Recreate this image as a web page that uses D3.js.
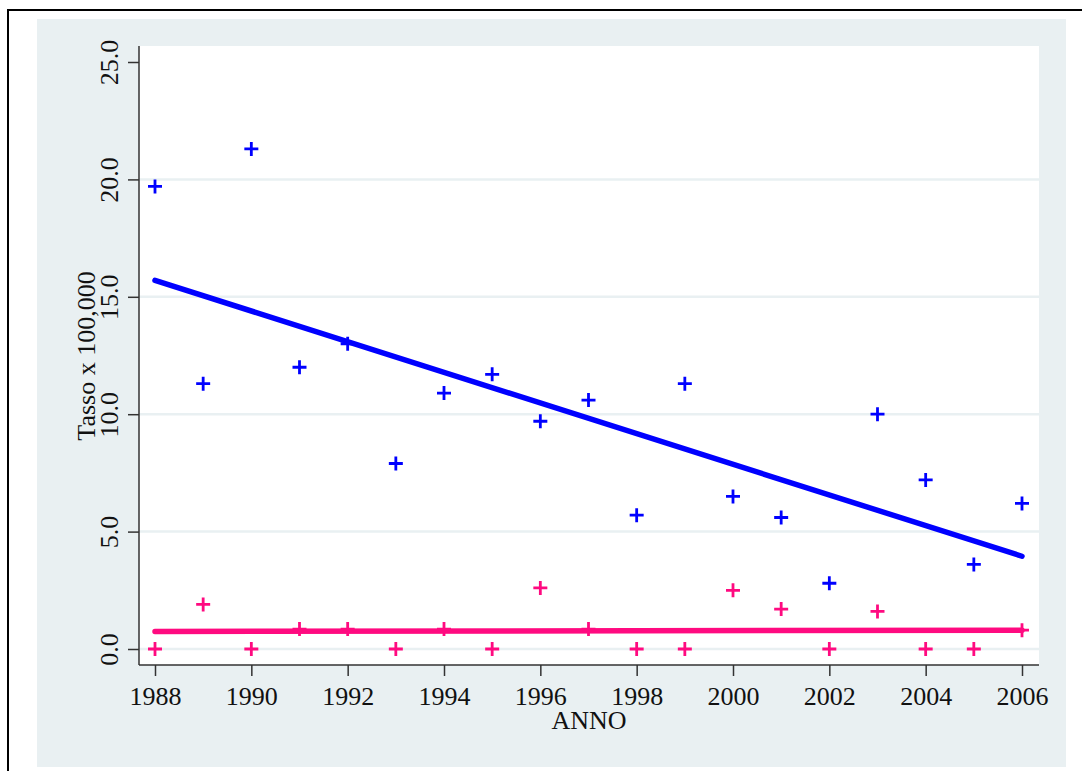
<!DOCTYPE html>
<html>
<head>
<meta charset="utf-8">
<script src="https://cdn.jsdelivr.net/npm/d3@7"></script>
<style>
  body { margin: 0; background: #fff; }
  text { font-family: "Liberation Serif", "Times New Roman", serif; }
</style>
</head>
<body>
<div class="canvas"></div>
<script>
// data
const years = [1988, 1989, 1990, 1991, 1992, 1993, 1994, 1995, 1996, 1997,
    1998, 1999, 2000, 2001, 2002, 2003, 2004, 2005, 2006];
const blueRates = [19.7, 11.3, 21.3, 12.0, 13.0, 7.9, 10.9, 11.7, 9.7, 10.6,
    5.7, 11.3, 6.5, 5.6, 2.8, 10.0, 7.2, 3.6, 6.2];
const pinkRates = [0, 1.9, 0, 0.85, 0.85, 0, 0.85, 0, 2.6, 0.85,
    0, 0, 2.5, 1.7, 0, 1.6, 0, 0, 0.8];
// fitted lines, value at first and last year
const blueFit = [15.7, 3.95];
const pinkFit = [0.75, 0.8];
const yTicks = [0, 5, 10, 15, 20, 25];
const xTicks = [1988, 1990, 1992, 1994, 1996, 1998, 2000, 2002, 2004, 2006];

const blue = '#0000ff';
const pink = '#ff0a80';
const bg = '#e9f0f2';

const svg = d3.select('.canvas')
    .append('svg')
    .attr('width', 1082)
    .attr('height', 771);

// background panel and outer frame
svg.append('rect')
    .attr('x', 37).attr('y', 19)
    .attr('width', 1029).attr('height', 748)
    .attr('fill', bg);

svg.append('rect')
    .attr('x', 8).attr('y', 10)
    .attr('width', 1200).attr('height', 900)
    .attr('fill', 'none')
    .attr('stroke', '#000')
    .attr('stroke-width', 2);

// plot area
const margin = { top: 46, left: 139 };
const graphWidth = 900;
const graphHeight = 619;

const graph = svg.append('g')
    .attr('transform', `translate(${margin.left},${margin.top})`);

graph.append('rect')
    .attr('width', graphWidth)
    .attr('height', graphHeight)
    .attr('fill', '#fff');

const x = d3.scaleLinear()
    .domain([1988, 2006])
    .range([16, 883]);

const y = d3.scaleLinear()
    .domain([0, 25])
    .range([603, 16]);

// gridlines
graph.selectAll('line.grid')
    .data(yTicks.slice(0, -1))
    .enter()
    .append('line')
    .attr('class', 'grid')
    .attr('x1', 0)
    .attr('x2', graphWidth)
    .attr('y1', d => y(d))
    .attr('y2', d => y(d))
    .attr('stroke', bg)
    .attr('stroke-width', 2.5);

// axes
const xAxisGroup = graph.append('g')
    .attr('transform', `translate(0, ${graphHeight})`);
const yAxisGroup = graph.append('g');

const xAxis = d3.axisBottom(x)
    .tickValues(xTicks)
    .tickFormat(d3.format('d'))
    .tickSize(11)
    .tickSizeOuter(0);

const yAxis = d3.axisLeft(y)
    .tickValues(yTicks)
    .tickFormat(d3.format('.1f'))
    .tickSize(11)
    .tickSizeOuter(0);

xAxisGroup.call(xAxis);
yAxisGroup.call(yAxis);

xAxisGroup.select('.domain')
    .attr('d', `M0,0H${graphWidth}`);
yAxisGroup.select('.domain')
    .attr('d', `M0,0V${graphHeight}`);

[xAxisGroup, yAxisGroup].forEach(g => {
    g.selectAll('.domain, .tick line')
        .attr('stroke', '#333')
        .attr('stroke-width', 1.5);
    g.selectAll('text')
        .attr('font-size', 26)
        .attr('fill', '#111')
        .style('font-family', '"Liberation Serif", serif');
});

xAxisGroup.selectAll('text')
    .attr('y', 40)
    .attr('dy', null);

yAxisGroup.selectAll('text')
    .attr('x', null)
    .attr('dy', null)
    .attr('text-anchor', 'middle')
    .attr('transform', 'translate(-21,0) rotate(-90)');

// axis titles
svg.append('text')
    .attr('x', 589)
    .attr('y', 729)
    .attr('text-anchor', 'middle')
    .attr('font-size', 26)
    .attr('fill', '#111')
    .text('ANNO');

svg.append('text')
    .attr('transform', 'translate(95,356) rotate(-90)')
    .attr('text-anchor', 'middle')
    .attr('font-size', 26)
    .attr('fill', '#111')
    .text('Tasso x 100,000');

// markers
const drawPlus = (values, colour) => {
    graph.append('g')
        .selectAll('path')
        .data(values.map((v, i) => ({ year: years[i], value: v })))
        .enter()
        .append('path')
        .attr('d', d => `M${x(d.year) - 7},${y(d.value)}h14M${x(d.year)},${y(d.value) - 7}v14`)
        .attr('stroke', colour)
        .attr('stroke-width', 2.8)
        .attr('fill', 'none');
};

// fit lines
const drawFit = (fit, colour, w) => {
    const line = d3.line()
        .x(d => x(d.year))
        .y(d => y(d.value));
    graph.append('path')
        .datum([{ year: years[0], value: fit[0] }, { year: years[years.length - 1], value: fit[1] }])
        .attr('d', line)
        .attr('stroke', colour)
        .attr('stroke-width', w)
        .attr('stroke-linecap', 'round')
        .attr('fill', 'none');
};

drawPlus(blueRates, blue);
drawPlus(pinkRates, pink);
drawFit(blueFit, blue, 5.5);
drawFit(pinkFit, pink, 5.5);
</script>
</body>
</html>
